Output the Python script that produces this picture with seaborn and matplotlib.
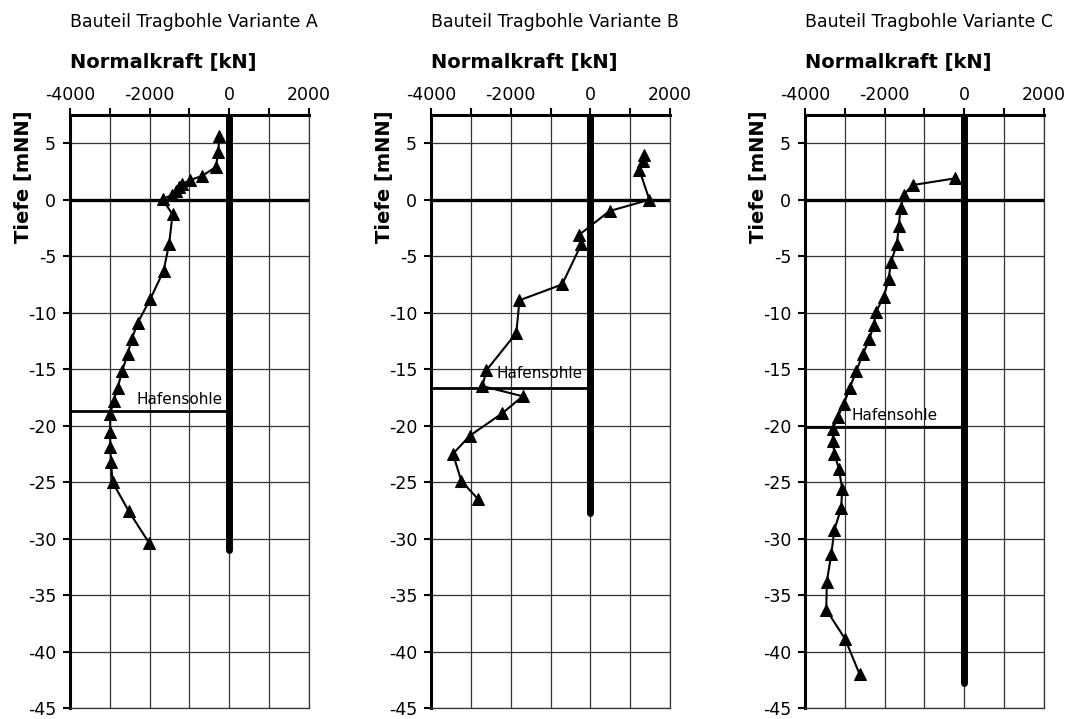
import numpy as np
import matplotlib
matplotlib.use("Agg")
import matplotlib.pyplot as plt
import seaborn as sns

# --- data (Normalkraft [kN] vs. Tiefe [mNN]) ---
force_a = [-250, -280, -335, -690, -980, -1180, -1260, -1340, -1430, -1675, -1425, -1510,
           -1650, -1985, -2300, -2445, -2555, -2695, -2805, -2905, -2990, -2990, -2990,
           -2970, -2930, -2520, -2010]
depth_a = [5.6, 4.2, 2.9, 2.1, 1.75, 1.4, 1.1, 0.8, 0.45, 0.05, -1.3, -3.9,
           -6.3, -8.8, -10.9, -12.3, -13.7, -15.2, -16.7, -17.8, -19.0, -20.6, -21.9,
           -23.2, -25.0, -27.6, -30.4]

force_b = [1350, 1330, 1230, 1480, 480, -280, -230, -710, -1780, -1860, -2610, -2710,
           -1700, -2210, -3030, -3450, -3240, -2820]
depth_b = [3.95, 3.45, 2.65, 0.0, -1.0, -3.1, -3.95, -7.5, -8.9, -11.8, -15.1, -16.5,
           -17.4, -18.9, -20.9, -22.5, -24.9, -26.5]

force_c = [-225, -1295, -1520, -1600, -1645, -1690, -1840, -1900, -2020, -2215, -2270,
           -2380, -2550, -2715, -2880, -3025, -3175, -3300, -3300, -3260, -3150, -3065,
           -3090, -3260, -3340, -3450, -3465, -2990, -2630]
depth_c = [1.9, 1.3, 0.45, -0.75, -2.3, -3.9, -5.5, -7.0, -8.6, -9.9, -11.05,
           -12.3, -13.7, -15.2, -16.7, -18.1, -19.2, -20.3, -21.4, -22.5, -23.8, -25.6,
           -27.3, -29.2, -31.4, -33.8, -36.3, -38.9, -42.0]

variants = ["A", "B", "C"]
pile_toe = [-31.0, -27.7, -42.8]        # lower end of the pile (thick line at 0 kN)
harbour_bed = [-18.7, -16.7, -20.1]     # Hafensohle
x_ticks = [-4000, -2000, 0, 2000]
x_minor = [-3000, -1000, 1000]
y_ticks = list(range(-45, 6, 5))

sns.set_theme(style="white")
plt.rcParams['font.family'] = ['DejaVu Sans']
plt.rcParams['axes.unicode_minus'] = False
plt.rcParams['text.color'] = 'black'
plt.rcParams['axes.labelcolor'] = 'black'
plt.rcParams['xtick.color'] = 'black'
plt.rcParams['ytick.color'] = 'black'

fig = plt.figure(figsize=(10.68, 7.19), dpi=100)

lefts = [0.0655, 0.4036, 0.7537]
label_x = [-2340, -2360, -2830]
label_gap = [0.6, 0.9, 0.6]
grid_col = '#333333'

data = [(force_a, depth_a), (force_b, depth_b), (force_c, depth_c)]

for i, (force, depth) in enumerate(data):
    ax = fig.add_axes([lefts[i], 0.0153, 0.2238, 0.8247])
    ax.set_xlim(-4000, 2000)
    ax.set_ylim(-45, 7.5)
    ax.set_axisbelow(True)

    # grid
    ax.grid(True, which='both', axis='x', color=grid_col, lw=0.9)
    ax.grid(True, which='major', axis='y', color=grid_col, lw=0.9)

    # reference lines
    ax.axhline(0, color='black', lw=2.4, zorder=3)
    ax.plot([0, 0], [7.5, pile_toe[i]], color='black', lw=5,
            solid_capstyle='round', zorder=4)
    ax.hlines(harbour_bed[i], -4000, 0, color='black', lw=2.0, zorder=3)
    ax.text(label_x[i], harbour_bed[i] + label_gap[i], 'Hafensohle',
            fontsize=11, va='baseline', ha='left', zorder=6)

    sns.lineplot(x=force, y=depth, sort=False, estimator=None, ax=ax,
                 color='black', lw=1.5, marker='^', markersize=8.5,
                 markeredgecolor='black', zorder=5)

    # axes styling
    ax.xaxis.tick_top()
    ax.xaxis.set_label_position('top')
    ax.set_xticks(x_ticks)
    ax.set_xticks(x_minor, minor=True)
    ax.set_yticks(y_ticks)
    ax.tick_params(axis='x', which='both', top=True, bottom=False, length=5,
                   width=1.5, labelsize=12.5, pad=3)
    ax.tick_params(axis='y', which='major', left=True, length=5, width=1.5,
                   labelsize=12.5, pad=5)

    for side in ['top', 'left']:
        ax.spines[side].set_color('black')
        ax.spines[side].set_linewidth(2.2)
    for side in ['right', 'bottom']:
        ax.spines[side].set_color(grid_col)
        ax.spines[side].set_linewidth(0.9)

    ax.set_xlabel('Normalkraft [kN]', fontsize=14, fontweight='bold', loc='left')
    ax.xaxis.set_label_coords(0, 1.08)
    ax.set_ylabel('Tiefe [mNN]', fontsize=14, fontweight='bold')
    ax.yaxis.set_label_coords(-0.155, 0.896)
    ax.set_title('Bauteil Tragbohle Variante ' + variants[i], loc='left',
                 fontsize=12.5, y=1.148, pad=0)

fig.savefig('out.png', dpi=100)
